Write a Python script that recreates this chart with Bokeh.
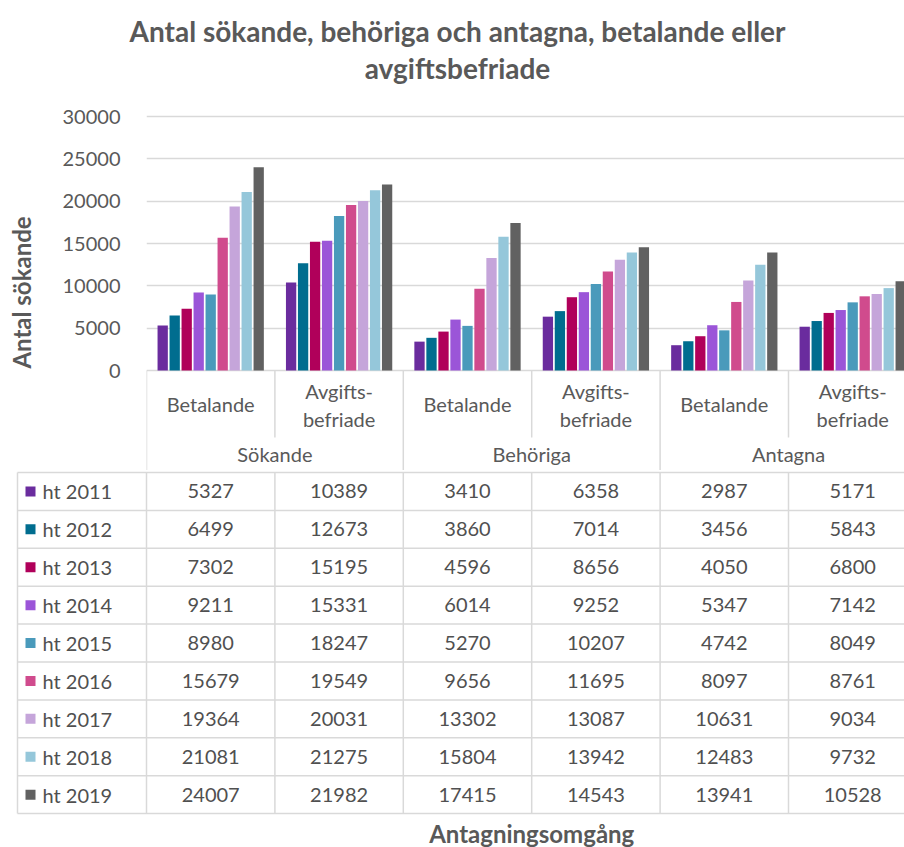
from bokeh.plotting import figure
from bokeh.models import Range1d, FixedTicker, ColumnDataSource
from bokeh.embed import file_html
from bokeh.resources import INLINE
from bokeh.core.properties import value

# ---------------- data ----------------
title_lines = ["Antal sökande, behöriga och antagna, betalande eller", "avgiftsbefriade"]
y_title = "Antal sökande"
x_title = "Antagningsomgång"
groups = ["Sökande", "Behöriga", "Antagna"]
sub_labels = [["Betalande"], ["Avgifts-", "befriade"]]
years = ["ht 2011", "ht 2012", "ht 2013", "ht 2014", "ht 2015",
         "ht 2016", "ht 2017", "ht 2018", "ht 2019"]
colors = ["#6A2C9E", "#006D8F", "#B0005A", "#9B55D8", "#4A9ABB",
          "#D04B8D", "#C5A5DA", "#95C7DA", "#616161"]
y_ticks = [0, 5000, 10000, 15000, 20000, 25000, 30000]

sokande_betalande = [5327, 6499, 7302, 9211, 8980, 15679, 19364, 21081, 24007]
sokande_avgiftsbefriade = [10389, 12673, 15195, 15331, 18247, 19549, 20031, 21275, 21982]
behoriga_betalande = [3410, 3860, 4596, 6014, 5270, 9656, 13302, 15804, 17415]
behoriga_avgiftsbefriade = [6358, 7014, 8656, 9252, 10207, 11695, 13087, 13942, 14543]
antagna_betalande = [2987, 3456, 4050, 5347, 4742, 8097, 10631, 12483, 13941]
antagna_avgiftsbefriade = [5171, 5843, 6800, 7142, 8049, 8761, 9034, 9732, 10528]

columns = [sokande_betalande, sokande_avgiftsbefriade,
           behoriga_betalande, behoriga_avgiftsbefriade,
           antagna_betalande, antagna_avgiftsbefriade]

# ---------------- style / layout constants ----------------
FONT = "Lato"
TXT = "#595959"
TBL = "#505050"
GRID = "#D9D9D9"
W = 904
PX = 128.4          # pixels per column
ROW = 37.9          # table row height (px)
U = 30000 / 254     # value units per pixel
SLOT = 12.0 / PX
BW = 10.3 / PX
NCOL = len(columns)
RIGHT = (W - 146) / PX


def bare(fig):
    fig.grid.visible = False
    return fig


# ---------------- title strip ----------------
ft = figure(width=W, height=90, x_range=Range1d(0, W), y_range=Range1d(90, 0),
            output_backend="svg", toolbar_location=None,
            min_border_left=0, min_border_right=0, min_border_top=0, min_border_bottom=0,
            x_axis_location=None, y_axis_location=None, outline_line_color=None)
bare(ft)
ft.text(x=[457, 457], y=[30, 67], text=title_lines, text_align="center", text_baseline="middle",
        text_font=value(FONT), text_font_size="28px", text_font_style="bold", text_color=TXT)

# ---------------- chart with bars ----------------
fa = figure(width=W, height=380,
            x_range=Range1d(0, RIGHT), y_range=Range1d(-100 * U, 30000 + 2 * U),
            output_backend="svg", toolbar_location=None,
            min_border_left=146, min_border_right=0, min_border_top=24, min_border_bottom=0,
            x_axis_location=None, outline_line_color=None)
fa.xgrid.visible = False
fa.ygrid.ticker = FixedTicker(ticks=y_ticks)
fa.ygrid.grid_line_color = GRID
fa.ygrid.grid_line_width = 1.5
ax = fa.yaxis[0]
ax.ticker = FixedTicker(ticks=y_ticks)
ax.axis_line_color = None
ax.major_tick_line_color = None
ax.minor_tick_line_color = None
ax.major_tick_out = 0
ax.major_tick_in = 0
ax.minor_tick_out = 0
ax.major_label_standoff = 26
ax.major_label_text_font = FONT
ax.major_label_text_font_size = "20px"
ax.major_label_text_color = TXT
ax.axis_label = y_title
ax.axis_label_text_font = FONT
ax.axis_label_text_font_size = "24px"
ax.axis_label_text_font_style = "bold"
ax.axis_label_text_color = TXT
ax.axis_label_standoff = 24

xs, tops, cols = [], [], []
for k in range(len(years)):
    for c, col in enumerate(columns):
        xs.append(c + 0.5 + (k - (len(years) - 1) / 2) * SLOT)
        tops.append(col[k])
        cols.append(colors[k])
src = ColumnDataSource(dict(x=xs, top=tops, color=cols))
fa.vbar(x="x", top="top", bottom=0, width=BW, fill_color="color", line_color=None, source=src)

# header area below the axis
gb = list(range(0, NCOL + 1, 2))
sb = list(range(1, NCOL, 2))
fa.segment(x0=gb, y0=[0] * len(gb), x1=gb, y1=[-100 * U] * len(gb), line_color=GRID, line_width=1.5)
fa.segment(x0=sb, y0=[0] * len(sb), x1=sb, y1=[-(437 - 370) * U] * len(sb), line_color=GRID, line_width=1.5)

hx, hy, ht = [], [], []
for c in range(NCOL):
    lines = sub_labels[c % 2]
    if len(lines) == 1:
        hx.append(c + 0.5); hy.append(-(403 - 370) * U); ht.append(lines[0])
    else:
        hx += [c + 0.5, c + 0.5]
        hy += [-(390 - 370) * U, -(418 - 370) * U]
        ht += lines
fa.text(x=hx, y=hy, text=ht, text_align="center", text_baseline="middle",
        text_font=value(FONT), text_font_size="20px", text_color=TXT)
fa.text(x=[2 * g + 1 for g in range(len(groups))], y=[-(453 - 370) * U] * len(groups),
        text=groups, text_align="center", text_baseline="middle",
        text_font=value(FONT), text_font_size="20px", text_color=TXT)

# ---------------- data table ----------------
LEFT = -131 / PX
fb = figure(width=W, height=377,
            x_range=Range1d(LEFT, RIGHT), y_range=Range1d(375, -2),
            output_backend="svg", toolbar_location=None,
            min_border_left=15, min_border_right=0, min_border_top=0, min_border_bottom=0,
            x_axis_location=None, y_axis_location=None, outline_line_color=None)
bare(fb)

nrow = len(years)
hy_l = [i * ROW for i in range(nrow + 1)]
fb.segment(x0=[-129 / PX] * len(hy_l), y0=hy_l, x1=[NCOL] * len(hy_l), y1=hy_l,
           line_color=GRID, line_width=1.5)
vx = [-129 / PX] + list(range(0, NCOL + 1))
fb.segment(x0=vx, y0=[0] * len(vx), x1=vx, y1=[nrow * ROW] * len(vx),
           line_color=GRID, line_width=1.5)

rc = [(k + 0.5) * ROW for k in range(nrow)]
fb.scatter(x=[-116 / PX] * nrow, y=rc, marker="square", size=10, fill_color=colors, line_color=None)
fb.text(x=[-104 / PX] * nrow, y=rc, text=years, text_align="left", text_baseline="middle",
        text_font=value(FONT), text_font_size="20px", text_color=TBL)

tx, ty, tt = [], [], []
for c, col in enumerate(columns):
    for k, v in enumerate(col):
        tx.append(c + 0.5); ty.append(rc[k]); tt.append(str(v))
fb.text(x=tx, y=ty, text=tt, text_align="center", text_baseline="middle",
        text_font=value(FONT), text_font_size="20px", text_color=TBL)

fb.text(x=[NCOL / 2], y=[833 - 472], text=[x_title], text_align="center", text_baseline="middle",
        text_font=value(FONT), text_font_size="24px", text_font_style="bold", text_color=TXT)

open("out.html", "w").write(file_html([ft, fa, fb], INLINE))
